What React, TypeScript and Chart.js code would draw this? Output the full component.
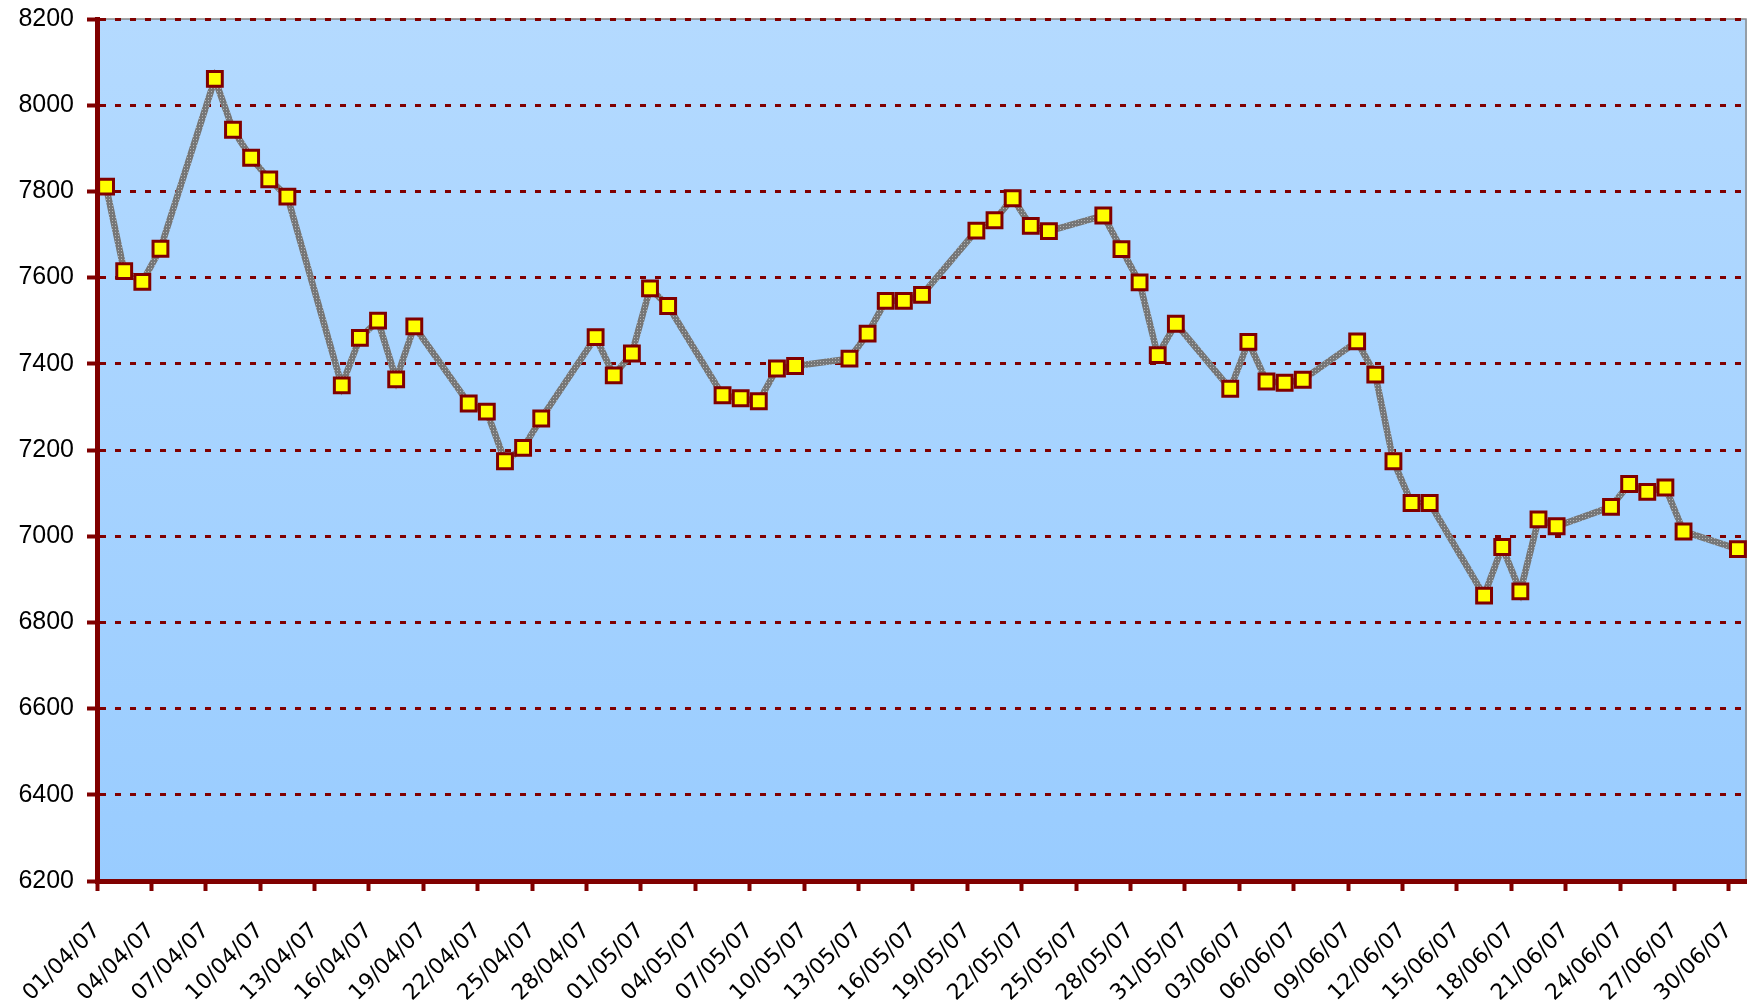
import React, { useEffect, useRef } from 'react';
import { Chart, registerables } from 'chart.js';

Chart.register(...registerables);

// Trading dates (dd/mm/yy) and closing values
const pointDates: string[] = [
  '01/04/07', '02/04/07', '03/04/07', '04/04/07',
  '07/04/07', '08/04/07', '09/04/07', '10/04/07', '11/04/07',
  '14/04/07', '15/04/07', '16/04/07', '17/04/07', '18/04/07',
  '21/04/07', '22/04/07', '23/04/07', '24/04/07', '25/04/07',
  '28/04/07', '29/04/07', '30/04/07', '01/05/07', '02/05/07',
  '05/05/07', '06/05/07', '07/05/07', '08/05/07', '09/05/07',
  '12/05/07', '13/05/07', '14/05/07', '15/05/07', '16/05/07',
  '19/05/07', '20/05/07', '21/05/07', '22/05/07', '23/05/07',
  '26/05/07', '27/05/07', '28/05/07', '29/05/07', '30/05/07',
  '02/06/07', '03/06/07', '04/06/07', '05/06/07', '06/06/07',
  '09/06/07', '10/06/07', '11/06/07', '12/06/07', '13/06/07',
  '16/06/07', '17/06/07', '18/06/07', '19/06/07', '20/06/07',
  '23/06/07', '24/06/07', '25/06/07', '26/06/07', '27/06/07',
  '30/06/07',
];

const pointValues: number[] = [
  7811, 7615, 7590, 7667,
  8061, 7943, 7878, 7828, 7788,
  7350, 7460, 7500, 7364, 7487,
  7308, 7289, 7174, 7205, 7273,
  7462, 7373, 7424, 7575, 7534,
  7327, 7320, 7313, 7389, 7395,
  7412, 7470, 7546, 7546, 7560,
  7709, 7733, 7784, 7720, 7708,
  7744, 7666, 7589, 7420, 7493,
  7342, 7451, 7359, 7356, 7363,
  7452, 7375, 7174, 7077, 7077,
  6862, 6975, 6872, 7039, 7023,
  7068, 7121, 7103, 7113, 7011,
  6970,
];

const xTickLabels: string[] = [
  '01/04/07', '04/04/07', '07/04/07', '10/04/07', '13/04/07', '16/04/07',
  '19/04/07', '22/04/07', '25/04/07', '28/04/07', '01/05/07', '04/05/07',
  '07/05/07', '10/05/07', '13/05/07', '16/05/07', '19/05/07', '22/05/07',
  '25/05/07', '28/05/07', '31/05/07', '03/06/07', '06/06/07', '09/06/07',
  '12/06/07', '15/06/07', '18/06/07', '21/06/07', '24/06/07', '27/06/07',
  '30/06/07',
];

const yMin = 6200;
const yMax = 8200;
const yStep = 200;
const axisEndDate = '01/07/07';

const AXIS_START = Date.UTC(2007, 3, 1);
const DAY_MS = 86400000;
function dayIndex(s: string): number {
  const [d, m, y] = s.split('/').map(Number);
  return Math.round((Date.UTC(2000 + y, m - 1, d) - AXIS_START) / DAY_MS);
}

const DARK_RED = '#800000';

export default function App() {
  const canvasRef = useRef<HTMLCanvasElement | null>(null);

  useEffect(() => {
    document.documentElement.style.overflow = 'hidden';
    document.body.style.margin = '0';
    document.body.style.overflow = 'hidden';

    const canvas = canvasRef.current;
    if (!canvas) return;

    // patterned grey line (Excel-like)
    const pc = document.createElement('canvas');
    pc.width = 3;
    pc.height = 3;
    const pctx = pc.getContext('2d')!;
    pctx.fillStyle = '#767676';
    pctx.fillRect(0, 0, 3, 3);
    pctx.fillStyle = '#b4b4b4';
    pctx.fillRect(1, 1, 1, 1);
    const ctx0 = canvas.getContext('2d')!;
    const linePattern = ctx0.createPattern(pc, 'repeat') || '#808080';

    const data = pointDates.map((d, i) => ({ x: dayIndex(d) + 0.5, y: pointValues[i] }));

    const bgPlugin = {
      id: 'bgPlugin',
      beforeDraw(chart: any) {
        const { ctx, chartArea } = chart;
        const { left, right, top, bottom } = chartArea;
        const g = ctx.createLinearGradient(0, top, 0, bottom);
        g.addColorStop(0, '#B4DAFF');
        g.addColorStop(1, '#99CCFF');
        ctx.save();
        ctx.fillStyle = g;
        ctx.fillRect(left, top, right - left, bottom - top);
        ctx.strokeStyle = '#8a8a8a';
        ctx.lineWidth = 1.5;
        ctx.beginPath();
        ctx.moveTo(left, top);
        ctx.lineTo(right - 1, top);
        ctx.lineTo(right - 1, bottom);
        ctx.stroke();
        ctx.restore();
      },
    };

    const chart = new Chart(canvas, {
      type: 'line',
      data: {
        datasets: [
          {
            data,
            borderColor: linePattern as any,
            borderWidth: 6.5,
            tension: 0,
            pointStyle: 'rect',
            pointRadius: 10.5,
            pointHoverRadius: 10.5,
            pointBorderWidth: 3,
            pointBorderColor: DARK_RED,
            pointBackgroundColor: '#FFFF00',
            clip: 0,
          },
        ],
      },
      options: {
        animation: false,
        responsive: false,
        maintainAspectRatio: false,
        layout: { autoPadding: false, padding: { top: 19, right: 0, left: 0, bottom: 0 } },
        plugins: {
          legend: { display: false },
          tooltip: { enabled: false },
          title: { display: false },
        },
        scales: {
          x: {
            type: 'linear',
            min: 0,
            max: dayIndex(axisEndDate),
            afterBuildTicks: (scale: any) => {
              scale.ticks = xTickLabels.map((l) => ({ value: dayIndex(l) }));
            },
            afterFit: (scale: any) => {
              scale.height = 121;
              scale.paddingRight = 0;
              scale.paddingLeft = 0;
            },
            grid: {
              drawOnChartArea: false,
              drawTicks: true,
              tickLength: 10,
              tickWidth: 4,
              tickColor: DARK_RED,
              tickBorderDash: [],
            },
            border: { display: true, color: DARK_RED, width: 5 },
            ticks: {
              autoSkip: false,
              maxRotation: 45,
              minRotation: 45,
              padding: 27,
              color: '#000000',
              font: { family: '"DejaVu Sans", Verdana, sans-serif', size: 22 },
              callback: (_v: any, i: number) => xTickLabels[i],
            },
          },
          y: {
            type: 'linear',
            min: yMin,
            max: yMax,
            afterFit: (scale: any) => {
              scale.width = 97;
              scale.paddingTop = 0;
              scale.paddingBottom = 0;
            },
            grid: {
              color: DARK_RED,
              lineWidth: 3,
              drawTicks: true,
              tickLength: 10,
              tickWidth: 4,
              tickColor: DARK_RED,
              tickBorderDash: [],
            },
            border: { display: true, color: DARK_RED, width: 5, dash: [6, 9] },
            ticks: {
              stepSize: yStep,
              padding: 13,
              color: '#000000',
              font: { family: '"Liberation Sans", Arial, sans-serif', size: 25 },
              callback: (v: any) => String(v),
            },
          },
        },
      },
      plugins: [bgPlugin],
    });

    return () => {
      chart.destroy();
    };
  }, []);

  return (
    <div style={{ position: 'absolute', left: 0, top: 0, width: 1747, height: 1002, background: '#ffffff', overflow: 'hidden' }}>
      <canvas ref={canvasRef} width={1747} height={1002} style={{ display: 'block' }} />
    </div>
  );
}
